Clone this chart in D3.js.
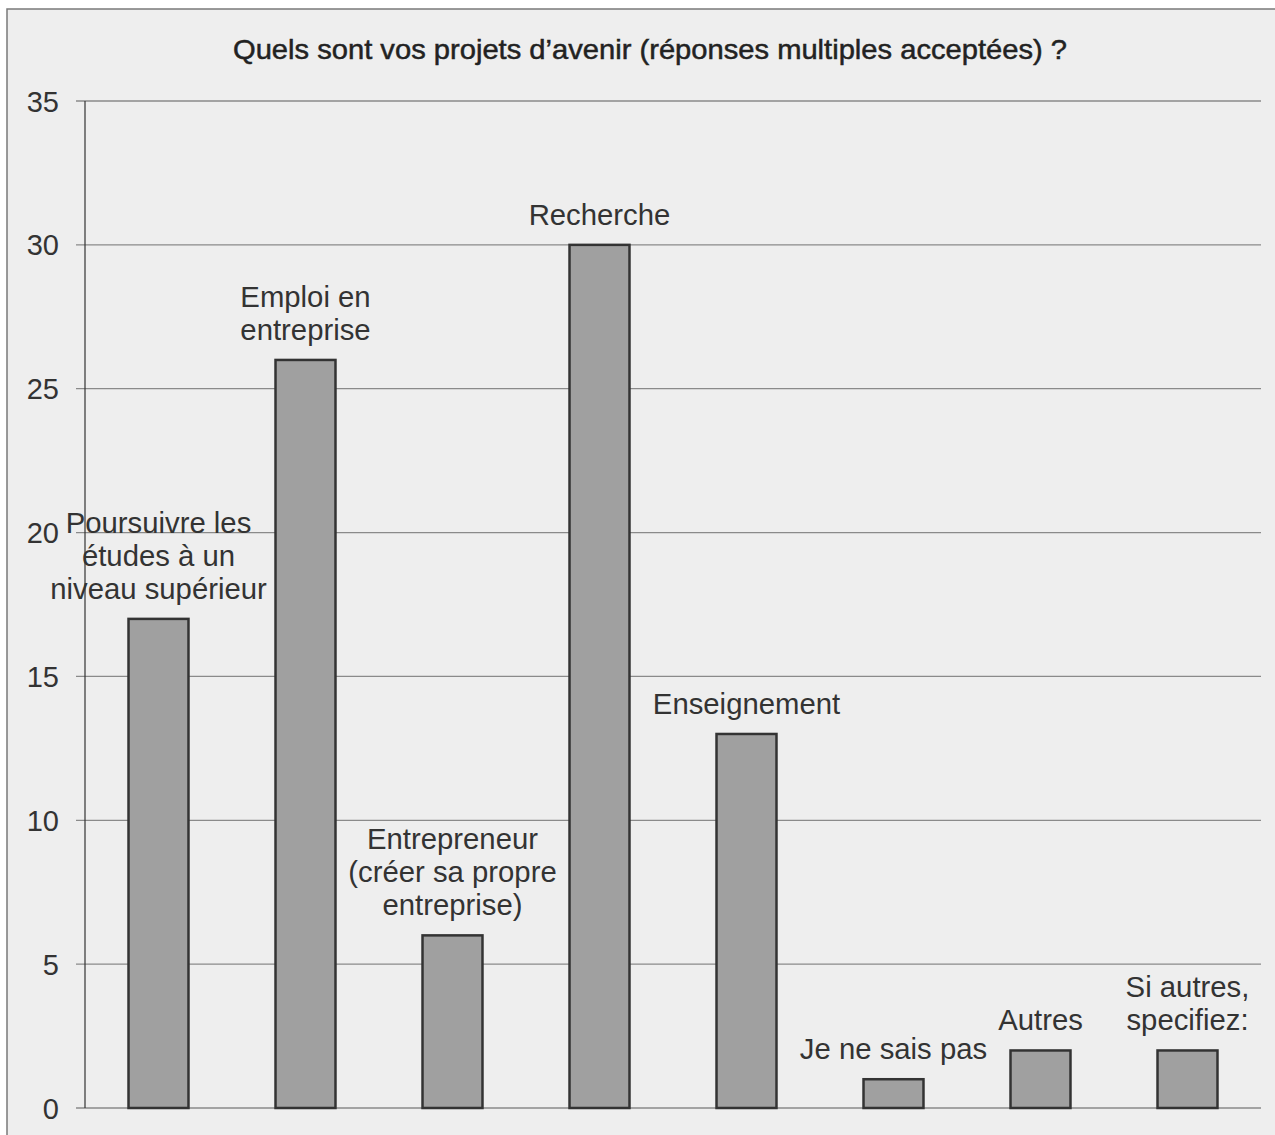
<!DOCTYPE html>
<html><head><meta charset="utf-8">
<script src="https://cdn.jsdelivr.net/npm/d3@7"></script>
<style>body{margin:0;background:#fff;}svg{display:block;font-family:"Liberation Sans",Arial,sans-serif;}</style>
</head><body>
<script>
const categories = ["Poursuivre les études à un niveau supérieur","Emploi en entreprise","Entrepreneur (créer sa propre entreprise)","Recherche","Enseignement","Je ne sais pas","Autres","Si autres, specifiez:"];
const labelLines = [["Poursuivre les","études à un","niveau supérieur"],["Emploi en","entreprise"],["Entrepreneur","(créer sa propre","entreprise)"],["Recherche"],["Enseignement"],["Je ne sais pas"],["Autres"],["Si autres,","specifiez:"]];
const values = [17,26,6,30,13,1,2,2];
const yTicks = [0,5,10,15,20,25,30,35];
const title = "Quels sont vos projets d’avenir (réponses multiples acceptées) ?";

const W=1275,H=1135;
const svg=d3.select("body").append("svg").attr("width",W).attr("height",H);
svg.append("rect").attr("x",7).attr("y",9).attr("width",1300).attr("height",1200)
  .attr("fill","#eeeeee").attr("stroke","#7a7a7a").attr("stroke-width",1.5);

const x=d3.scaleBand().domain(categories).range([85,1261]).paddingInner(0.592).paddingOuter(0.296);
const y=d3.scaleLinear().domain([0,35]).range([1108,101]);

svg.append("text").attr("x",650).attr("y",58.5).attr("text-anchor","middle")
  .attr("font-size",28.5).attr("fill","#222").attr("stroke","#222").attr("stroke-width",0.5)
  .attr("textLength",834).attr("lengthAdjust","spacingAndGlyphs").text(title);

const g=svg.append("g");
g.selectAll("line.grid").data(yTicks).join("line").attr("class","grid")
  .attr("x1",76).attr("x2",1261).attr("y1",d=>y(d)).attr("y2",d=>y(d))
  .attr("stroke","#8a8a8a").attr("stroke-width",1.3);
g.selectAll("text.yt").data(yTicks).join("text").attr("class","yt")
  .attr("x",59).attr("y",d=>y(d)+10.5).attr("text-anchor","end")
  .attr("font-size",29).attr("fill","#333").text(d=>d);
g.append("line").attr("x1",85).attr("x2",85).attr("y1",y(35)).attr("y2",y(0))
  .attr("stroke","#333").attr("stroke-width",1.2);

g.selectAll("rect.bar").data(values).join("rect").attr("class","bar")
  .attr("x",(d,i)=>x(categories[i])).attr("width",x.bandwidth())
  .attr("y",d=>y(d)).attr("height",d=>y(0)-y(d))
  .attr("fill","#a0a0a0").attr("stroke","#333").attr("stroke-width",2.5);

values.forEach((v,i)=>{
  const lines=labelLines[i];
  const cx=x(categories[i])+x.bandwidth()/2;
  const base=y(v)-20;
  lines.forEach((t,j)=>{
    svg.append("text").attr("x",cx).attr("y",base-(lines.length-1-j)*33)
      .attr("text-anchor","middle").attr("font-size",29.3).attr("fill","#333").text(t);
  });
});
</script>
</body></html>
